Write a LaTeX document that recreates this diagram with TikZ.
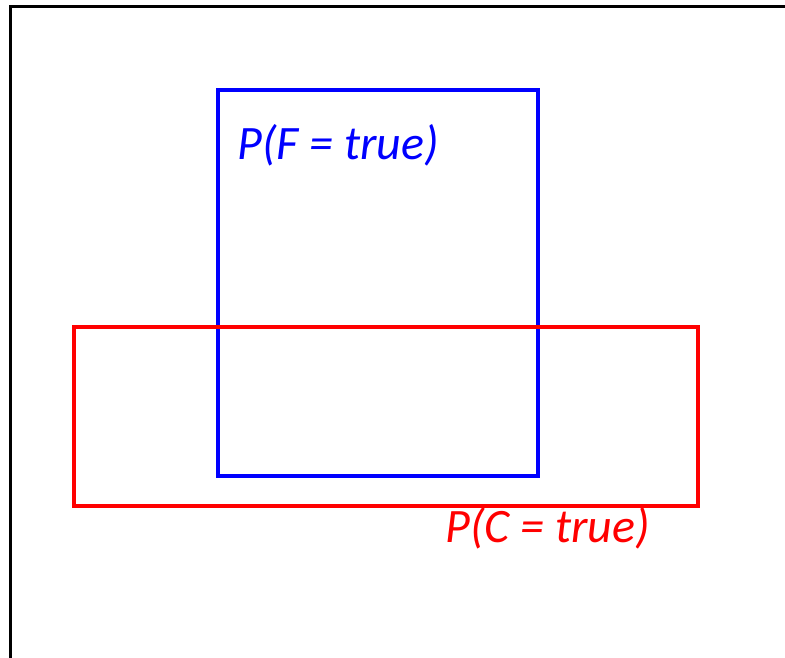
\documentclass[tikz,border=0pt]{standalone}
\usepackage{fontspec}
\setmainfont{Carlito}
\usepackage{tikz}
\usetikzlibrary{positioning}

\begin{document}
\begin{tikzpicture}[
  x=1pt, y=-1pt,
  evbox/.style={draw, line width=3.6pt, inner sep=0pt, outer sep=0pt},
  evlabel/.style={anchor=west, inner sep=0pt, font=\fontsize{48}{56}\selectfont\itshape}
]
\useasboundingbox (0,0) rectangle (785,658);
% frame
\draw[line width=3pt] (10,660) -- (10,7) -- (787,7);
% events
\node[evbox, blue, minimum width=320pt, minimum height=386pt] (F) at (378,283) {};
\node[evbox, red, minimum width=624pt, minimum height=179pt] (C) at (386,416.5) {};
\node[evlabel, text=blue] (Flab) at (237,145) {P(F = true)};
\node[evlabel, text=red] (Clab) at (445,528) {P(C = true)};
\end{tikzpicture}
\end{document}
